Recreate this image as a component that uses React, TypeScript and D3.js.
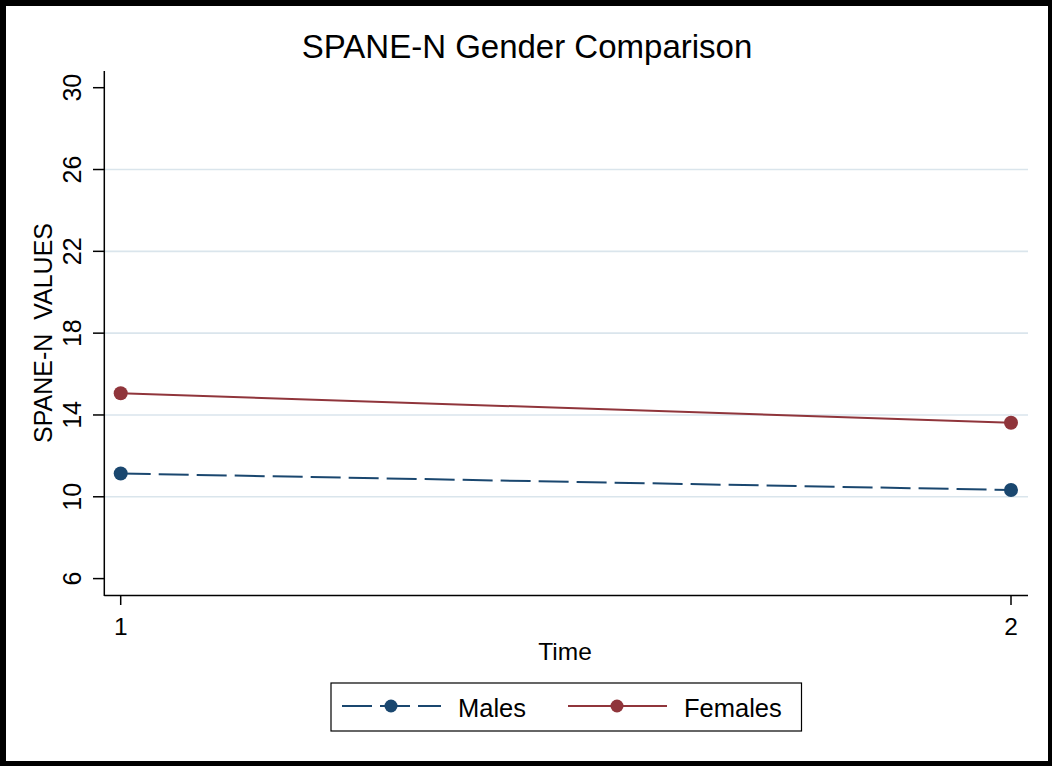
import React from "react";
import * as d3 from "d3";

const times = [1, 2];
const males = [11.14, 10.33];
const females = [15.06, 13.62];
const yTicks = [6, 10, 14, 18, 22, 26, 30];
const gridTicks = [10, 14, 18, 22, 26];
const seriesNames = ["Males", "Females"];

const W = 1052;
const H = 766;
const MALE = "#1a476f";
const FEMALE = "#90353b";
const FONT = "'Liberation Sans', Arial, Helvetica, sans-serif";

export default function App() {
  const x = d3.scaleLinear().domain([1, 2]).range([120.7, 1011]);
  const y = d3.scaleLinear().domain([6, 30]).range([578.6, 87.7]);
  const line = d3
    .line<number>()
    .x((_, i) => x(times[i]))
    .y((d) => y(d));
  const series = [
    { name: seriesNames[0], vals: males, color: MALE, dash: "30 8" },
    { name: seriesNames[1], vals: females, color: FEMALE, dash: undefined },
  ];
  return (
    <svg
      width={W}
      height={H}
      style={{ position: "absolute", left: 0, top: 0 }}
      fontFamily={FONT}
    >
      <rect x={0} y={0} width={W} height={H} fill="#000" />
      <rect x={6} y={6} width={1042} height={755} fill="#fff" />
      <text x={527} y={58} textAnchor="middle" fontSize={33} fill="#000">
        SPANE-N Gender Comparison
      </text>
      {gridTicks.map((t) => (
        <line
          key={"g" + t}
          x1={105}
          x2={1028}
          y1={y(t)}
          y2={y(t)}
          stroke="#dae5ec"
          strokeWidth={1.6}
        />
      ))}
      {/* y axis */}
      <line x1={104.3} x2={104.3} y1={71} y2={596} stroke="#000" strokeWidth={1.5} />
      {yTicks.map((t) => (
        <g key={"y" + t}>
          <line x1={93} x2={104.3} y1={y(t)} y2={y(t)} stroke="#000" strokeWidth={1.5} />
          <text
            transform={`translate(81,${y(t)}) rotate(-90)`}
            textAnchor="middle"
            fontSize={25}
            fill="#000"
          >
            {t}
          </text>
        </g>
      ))}
      <text
        transform={`translate(52,333) rotate(-90)`}
        textAnchor="middle"
        fontSize={25}
        fill="#000"
        style={{ whiteSpace: "pre" }}
      >
        {"SPANE-N  VALUES"}
      </text>
      {/* x axis */}
      <line x1={104.3} x2={1028} y1={595.5} y2={595.5} stroke="#000" strokeWidth={1.5} />
      {times.map((t) => (
        <g key={"x" + t}>
          <line x1={x(t)} x2={x(t)} y1={595.5} y2={605} stroke="#000" strokeWidth={1.5} />
          <text x={x(t)} y={635} textAnchor="middle" fontSize={24.5} fill="#000">
            {t}
          </text>
        </g>
      ))}
      <text x={565} y={660} textAnchor="middle" fontSize={24.5} fill="#000">
        Time
      </text>
      {series.map((s) => (
        <g key={s.name}>
          <path
            d={line(s.vals) || ""}
            fill="none"
            stroke={s.color}
            strokeWidth={2}
            strokeDasharray={s.dash}
          />
          {s.vals.map((v, i) => (
            <circle key={i} cx={x(times[i])} cy={y(v)} r={7} fill={s.color} />
          ))}
        </g>
      ))}
      {/* legend */}
      <rect x={331} y={683} width={470.5} height={48} fill="#fff" stroke="#000" strokeWidth={1.2} />
      <line x1={342} x2={441} y1={706} y2={706} stroke={MALE} strokeWidth={2} strokeDasharray="30 8" />
      <circle cx={391} cy={706} r={6.5} fill={MALE} />
      <text x={458} y={716.5} fontSize={25.5} fill="#000">
        Males
      </text>
      <line x1={568} x2={667} y1={706} y2={706} stroke={FEMALE} strokeWidth={2} />
      <circle cx={617} cy={706} r={6.5} fill={FEMALE} />
      <text x={684} y={716.5} fontSize={25.5} fill="#000">
        Females
      </text>
    </svg>
  );
}
